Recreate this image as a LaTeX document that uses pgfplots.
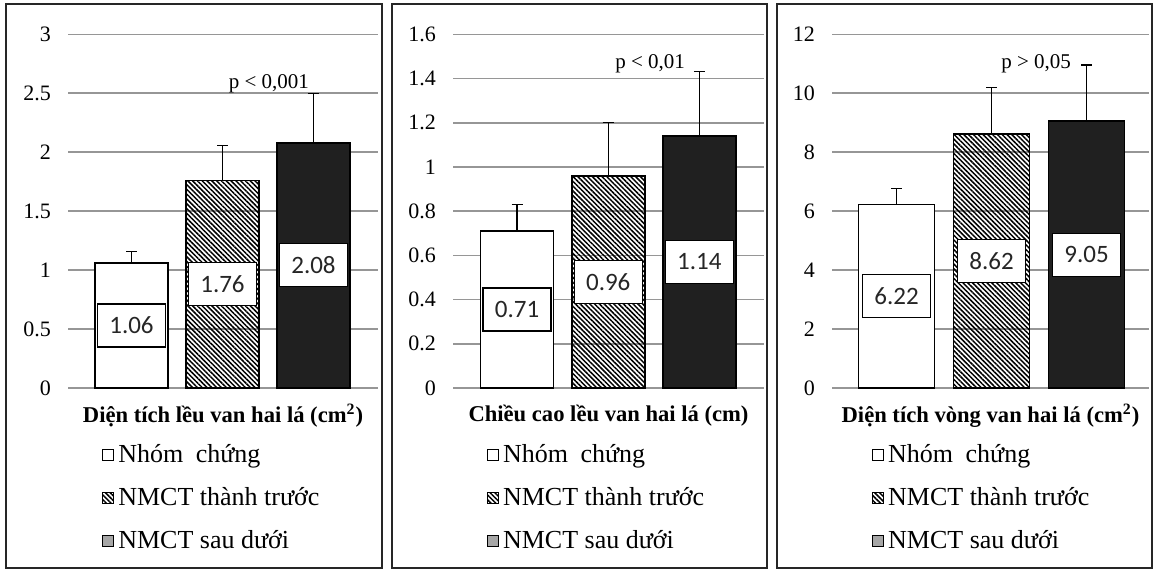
\documentclass[border=0pt]{standalone}
\usepackage{fontspec}
\setmainfont{Liberation Serif}
\newfontfamily\calibri{Carlito}
\usepackage{pgfplots}
\pgfplotsset{compat=1.18}
\usetikzlibrary{patterns.meta}
\definecolor{gridgray}{RGB}{150,150,150}
\definecolor{barblack}{RGB}{32,32,32}
\pgfplotsset{
  panel/.style={
    scale only axis,
    height=176.85pt,
    anchor=south west,
    ymin=0,
    axis line style={draw=none},
    major tick length=0pt,
    xtick=\empty,
    ymajorgrids,
    grid style={gridgray, line width=0.8pt},
    /pgf/number format/assume math mode=true,
    yticklabel={\pgfmathprintnumber{\tick}},
    yticklabel style={font=\fontsize{11}{13}\selectfont, xshift=-5pt},
    clip=false,
    legend style={draw=none, fill=none, inner sep=0pt, outer sep=0pt,
      row sep=7pt, font=\fontsize{13}{14.5}\selectfont, anchor=north west,
      cells={anchor=west}},
    legend cell align=left,
  },
  sq/.style={legend image code/.code={\draw[##1, line width=0.6pt] (0pt,-2.75pt) rectangle (5.5pt,2.75pt);}},
  bs/.style={ybar, bar shift=0pt, draw=black, line width=0.8pt, sq,
    error bars/y dir=plus, error bars/y explicit,
    error bars/error bar style={line width=0.6pt, black},
    error bars/error mark options={rotate=90, mark size=2.75pt, line width=0.6pt, black}},
  w/.style={bs, fill=white},
  h/.style={bs, pattern={Lines[angle=-45, distance=1.7pt, line width=0.75pt]}, pattern color=black},
  k/.style={bs, fill=barblack, legend image code/.code={\draw[draw=black, fill=gray!70, line width=0.6pt] (0pt,-2.75pt) rectangle (5.5pt,2.75pt);}},
}
\tikzset{
  lbl/.style={draw=black, line width=0.6pt, fill=white, minimum width=34pt,
    minimum height=21.5pt, inner sep=0pt, font=\calibri\fontsize{12.5}{14}\selectfont, text=black!85},
  ttl/.style={font=\bfseries\fontsize{11.3}{13}\selectfont, yshift=-14pt},
  pv/.style={font=\fontsize{10.5}{12}\selectfont},
}
\begin{document}
\begin{tikzpicture}
\useasboundingbox (0,0) rectangle (577pt,285pt);

% Panel 1
\begin{axis}[panel, at={(34pt,91pt)}, width=155pt,
  xmin=-0.698, xmax=2.709, ymax=3, ytick={0,0.5,1,1.5,2,2.5,3},
  legend style={at={(axis description cs:0.11,-0.148)}}]
\addplot[w, bar width=36.5pt] coordinates {(0,1.06) +- (0,0.10)};
\addlegendentry{Nhóm\hspace{3pt} chứng}
\addplot[h, bar width=36.5pt] coordinates {(1,1.76) +- (0,0.30)};
\addlegendentry{NMCT thành trước}
\addplot[k, bar width=36.5pt] coordinates {(2,2.08) +- (0,0.42)};
\addlegendentry{NMCT sau dưới}
\node[lbl] at (axis cs:0,0.53) {1.06};
\node[lbl] at (axis cs:1,0.88) {1.76};
\node[lbl] at (axis cs:2,1.04) {2.08};
\node[pv] at (axis cs:1.51,2.58) {p < 0,001};
\node[ttl] at (axis description cs:0.5,0) {Diện tích lều van hai lá (cm\textsuperscript{2})};
\end{axis}

% Panel 2
\begin{axis}[panel, at={(226.5pt,91pt)}, width=155.5pt,
  xmin=-0.703, xmax=2.709, ymax=1.6, ytick={0,0.2,0.4,0.6,0.8,1,1.2,1.4,1.6},
  legend style={at={(axis description cs:0.109,-0.148)}}]
\addplot[w, bar width=36.5pt] coordinates {(0,0.71) +- (0,0.12)};
\addlegendentry{Nhóm\hspace{3pt} chứng}
\addplot[h, bar width=36.5pt] coordinates {(1,0.96) +- (0,0.24)};
\addlegendentry{NMCT thành trước}
\addplot[k, bar width=36.5pt] coordinates {(2,1.14) +- (0,0.29)};
\addlegendentry{NMCT sau dưới}
\node[lbl] at (axis cs:0,0.355) {0.71};
\node[lbl] at (axis cs:1,0.48) {0.96};
\node[lbl] at (axis cs:2,0.57) {1.14};
\node[pv] at (axis cs:1.46,1.467) {p < 0,01};
\node[ttl] at (axis description cs:0.5,0) {Chiều cao lều van hai lá (cm)};
\end{axis}

% Panel 3
\begin{axis}[panel, at={(416pt,91pt)}, width=158.5pt,
  xmin=-0.679, xmax=2.658, ymax=12, ytick={0,2,4,6,8,10,12},
  legend style={at={(axis description cs:0.126,-0.148)}}]
\addplot[w, bar width=38pt] coordinates {(0,6.22) +- (0,0.55)};
\addlegendentry{Nhóm\hspace{3pt} chứng}
\addplot[h, bar width=38pt] coordinates {(1,8.62) +- (0,1.57)};
\addlegendentry{NMCT thành trước}
\addplot[k, bar width=38pt] coordinates {(2,9.05) +- (0,1.91)};
\addlegendentry{NMCT sau dưới}
\node[lbl] at (axis cs:0,3.11) {6.22};
\node[lbl] at (axis cs:1,4.31) {8.62};
\node[lbl] at (axis cs:2,4.525) {9.05};
\node[pv] at (axis cs:1.47,11.0) {p > 0,05};
\node[ttl] at (axis description cs:0.5,0) {Diện tích vòng van hai lá (cm\textsuperscript{2})};
\end{axis}

% panel frames
\draw[line width=1pt, black!85] (3pt,1pt) rectangle (191pt,283pt);
\draw[line width=1pt, black!85] (196pt,1pt) rectangle (383.5pt,283pt);
\draw[line width=1pt, black!85] (388.5pt,1pt) rectangle (576pt,283pt);
\end{tikzpicture}
\end{document}
